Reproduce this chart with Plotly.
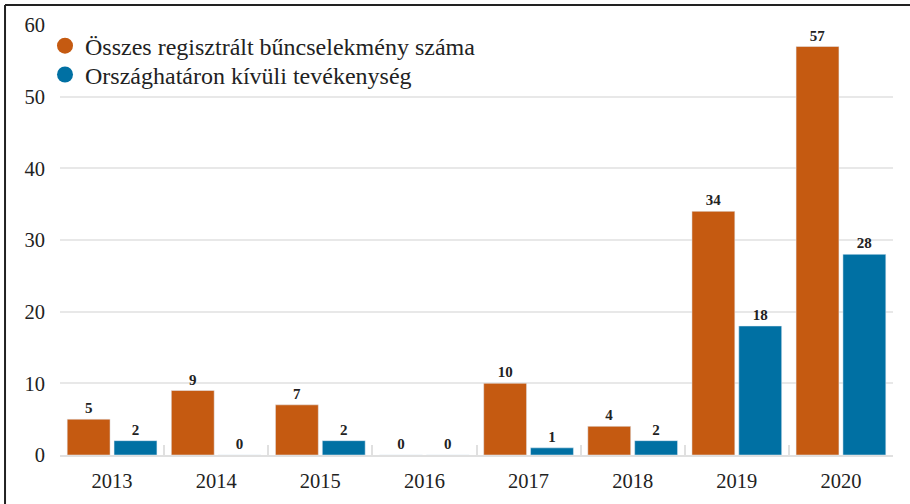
import plotly.graph_objects as go

years = ["2013", "2014", "2015", "2016", "2017", "2018", "2019", "2020"]
total_crimes = [5, 9, 7, 0, 10, 4, 34, 57]
abroad_activity = [2, 0, 2, 0, 1, 2, 18, 28]
series_names = ["Összes regisztrált bűncselekmény száma", "Országhatáron kívüli tevékenység"]
y_ticks = [0, 10, 20, 30, 40, 50, 60]

ORANGE = "#C55A11"
BLUE = "#0070A3"
FONT = "Liberation Serif"

fig = go.Figure()
for vals, name, col, lg in [(total_crimes, series_names[0], ORANGE, "legend"),
                            (abroad_activity, series_names[1], BLUE, "legend2")]:
    fig.add_trace(go.Bar(
        x=years, y=vals, name=name, marker_color=col, showlegend=False,
        text=vals, textposition="outside", cliponaxis=False,
        textfont=dict(family=FONT, size=15, color="#222222"),
        texttemplate="<b>%{text}</b>",
    ))
    fig.add_trace(go.Scatter(
        x=[None], y=[None], mode="markers", name=name, legend=lg,
        marker=dict(color=col, size=16, symbol="circle"),
    ))

legend_style = dict(xanchor="left", yanchor="middle", bgcolor="rgba(0,0,0,0)",
                    font=dict(family=FONT, size=24, color="#222222"), itemwidth=30)

fig.update_layout(
    width=910, height=504,
    margin=dict(l=60, r=17, t=25, b=49, autoexpand=False),
    paper_bgcolor="white", plot_bgcolor="white",
    font=dict(family=FONT, size=20.5, color="#222222"),
    barmode="group", bargap=0.1, bargroupgap=0.085,
    legend=dict(x=-0.018, y=0.951, **legend_style),
    legend2=dict(x=-0.018, y=0.884, **legend_style),
    shapes=[
        dict(type="line", xref="paper", yref="paper", x0=-0.066, x1=1.03, y0=1.0465, y1=1.0465,
             line=dict(color="#222222", width=2)),
        dict(type="line", xref="paper", yref="paper", x0=-0.066, x1=-0.066, y0=1.0465, y1=-0.12,
             line=dict(color="#222222", width=2)),
    ],
)
fig.update_xaxes(
    type="category", showgrid=False, showline=True, linecolor="#e0e0e0", linewidth=2,
    ticks="inside", tickson="boundaries", ticklen=10, tickcolor="#e0e0e0", tickwidth=2,
    ticklabelstandoff=6, automargin=False,
    tickfont=dict(family=FONT, size=20.5, color="#222222"),
)
fig.update_yaxes(
    range=[0, 60], tickvals=y_ticks, showgrid=True, gridcolor="#e8e8e8", gridwidth=2,
    zeroline=False, showline=False, ticklabelstandoff=14, automargin=False,
    tickfont=dict(family=FONT, size=20.5, color="#222222"),
)

fig.write_html("out.html", config={"displayModeBar": False},
               post_script="document.body.style.margin='0';")
